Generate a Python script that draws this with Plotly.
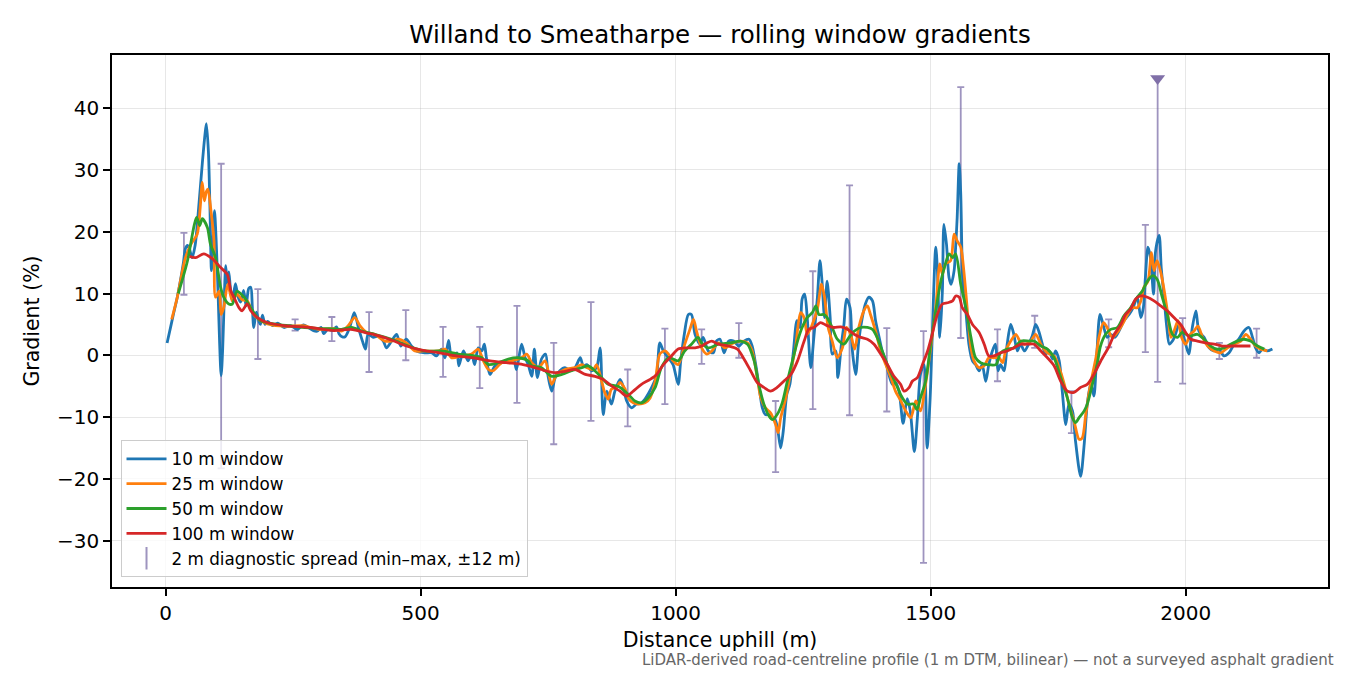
import plotly.graph_objects as go

# --- rolling window gradients (%), distance uphill (m) ---
d10 = [3, 10, 15, 23, 30, 35, 39, 43, 47, 52,
       58, 65, 72, 77, 80, 84, 87, 90, 93, 96,
       99, 103, 106, 109, 112, 115, 118, 121, 124, 127,
       131, 137, 142, 147, 153, 158, 163, 167, 170, 173,
       178, 183, 186, 190, 195, 200, 210, 220, 232, 245,
       258, 270, 280, 290, 297, 305, 310, 318, 327, 335,
       340, 346, 352, 361, 370, 378, 386, 392, 397, 407,
       417, 427, 433, 443, 453, 461, 472, 482, 492, 508,
       522, 531, 541, 548, 555, 561, 571, 575, 584, 593,
       600, 606, 613, 620, 625, 629, 636, 646, 659, 672,
       682, 688, 698, 705, 711, 718, 723, 729, 737, 745,
       750, 757, 764, 773, 783, 793, 803, 813, 819, 826,
       835, 845, 852, 858, 865, 874, 881, 891, 897, 904,
       914, 923, 933, 940, 946, 956, 963, 969, 976, 986,
       995, 1005, 1010, 1017, 1025, 1031, 1038, 1048, 1054, 1064,
       1074, 1080, 1087, 1095, 1104, 1114, 1124, 1134, 1144, 1150,
       1157, 1163, 1170, 1176, 1183, 1190, 1196, 1201, 1206, 1211,
       1218, 1224, 1231, 1238, 1244, 1248, 1253, 1258, 1265, 1271,
       1278, 1283, 1287, 1292, 1297, 1303, 1307, 1314, 1318, 1325,
       1330, 1335, 1342, 1346, 1353, 1359, 1366, 1372, 1379, 1386,
       1392, 1399, 1405, 1412, 1418, 1425, 1431, 1438, 1446, 1454,
       1460, 1468, 1474, 1480, 1487, 1493, 1499, 1503, 1510, 1513,
       1518, 1523, 1526, 1531, 1536, 1540, 1546, 1549, 1552, 1556,
       1559, 1563, 1569, 1575, 1582, 1588, 1595, 1601, 1608, 1614,
       1621, 1627, 1632, 1637, 1644, 1650, 1657, 1663, 1670, 1676,
       1684, 1693, 1699, 1706, 1712, 1719, 1725, 1732, 1739, 1745,
       1752, 1758, 1765, 1771, 1778, 1784, 1794, 1801, 1807, 1814,
       1820, 1825, 1832, 1838, 1846, 1853, 1861, 1869, 1879, 1889,
       1897, 1905, 1912, 1917, 1921, 1926, 1931, 1937, 1941, 1948,
       1952, 1957, 1963, 1968, 1974, 1980, 1987, 1993, 2000, 2006,
       2013, 2020, 2026, 2036, 2046, 2055, 2065, 2075, 2085, 2095,
       2104, 2114, 2124, 2131, 2137, 2144, 2150, 2160, 2170]
g10 = [2.0, 4.6, 6.5, 9.4, 12.5, 15.0, 17.3, 17.8, 17.2, 15.8,
       17.8, 24.0, 31.0, 35.5, 37.5, 33.0, 24.0, 13.7, 18.0, 23.4,
       19.0, 10.0, 2.0, -3.3, 1.0, 9.0, 14.5, 11.5, 13.5, 11.0,
       8.8, 11.6, 9.5, 8.6, 10.5, 8.0, 10.8, 11.0, 8.0, 4.5,
       7.0, 5.5, 5.0, 6.5, 5.0, 5.5, 4.8, 5.2, 4.5, 4.8,
       4.2, 4.9, 4.5, 4.0, 3.9, 4.5, 3.5, 4.2, 4.0, 4.6,
       3.5, 3.0, 3.0, 4.5, 6.9, 4.5, 2.3, 1.0, 3.4, 2.9,
       3.1, 2.3, 1.2, 2.3, 3.4, 1.5, 2.6, 1.5, 0.7, 0.4,
       0.4, -0.1, 1.0, -0.4, 2.4, -0.4, 0.4, -1.7, 0.7, -0.9,
       0.2, -1.5, 1.2, 0.7, 1.8, -0.4, -3.1, -1.7, -1.2, -0.9,
       -0.6, -2.3, 1.8, -0.4, -1.5, -3.4, 1.0, -3.6, -0.6, 0.2,
       -3.4, -5.8, -3.6, -2.5, -2.0, -2.5, -2.0, -0.4, -1.7, -1.5,
       -2.5, -2.0, 1.2, -9.6, -5.8, -7.9, -5.8, -3.9, -5.0, -7.4,
       -8.5, -7.9, -7.7, -7.1, -6.3, -4.7, -3.1, 2.0, 0.7, -0.4,
       -1.5, -4.7, -0.9, 3.4, 6.6, 6.6, 3.4, 1.8, 2.9, 0.7,
       0.4, 2.3, 2.6, 0.4, 2.3, 2.3, 1.5, 2.3, 2.6, 1.5,
       -1.5, -4.7, -8.5, -9.6, -9.6, -10.1, -10.6, -12.5, -15.0, -12.3,
       -6.3, -4.7, 0.7, 5.6, 4.5, 9.1, 9.9, 6.1, -2.0, 2.9,
       9.4, 15.3, 12.0, 6.1, 12.0, 6.1, 0.2, 0.7, -3.6, 1.8,
       5.0, 9.1, 7.7, 1.2, -3.1, 2.3, 6.1, 8.3, 9.4, 8.8,
       5.6, 2.9, 0.7, -0.9, -3.1, -4.7, -4.4, -5.8, -11.0, -7.0,
       -9.0, -15.6, -10.1, -3.1, -1.5, -15.0, -6.9, 2.9, 17.5, 14.2,
       2.9, 10.4, 21.2, 18.0, 12.6, 11.5, 13.7, 17.5, 22.3, 31.0,
       26.1, 12.0, 7.2, 1.8, -0.9, -1.5, -2.5, -1.5, -4.2, -1.5,
       0.7, 1.8, -2.5, -1.5, -2.5, 1.8, 5.0, 3.4, 0.7, 1.8,
       0.7, 2.0, 3.1, 5.0, 3.9, 1.8, 0.2, 0.7, -0.6, 0.7,
       -0.9, -5.8, -11.2, -7.9, -9.0, -13.9, -19.6, -14.4, -7.9, -4.5,
       -6.6, -0.9, 6.6, 5.0, 2.9, 3.4, 2.9, 3.9, 5.6, 6.6,
       7.7, 9.4, 6.1, 7.7, 12.6, 17.5, 15.8, 9.9, 16.9, 19.4,
       14.2, 9.9, 4.5, 1.8, 2.3, 3.4, 5.0, 3.9, 1.8, 0.2,
       4.5, 7.2, 3.9, 2.9, 1.2, 0.7, 1.0, -0.1, 0.4, 1.8,
       2.6, 3.9, 4.5, 2.9, 1.2, 0.4, 1.0, 0.7, 1.0]

d25 = [12, 23, 39, 50, 62, 68, 72, 76, 80, 83,
       89, 95, 98, 105, 109, 114, 122, 131, 140, 150,
       160, 173, 193, 210, 240, 270, 300, 330, 345, 358,
       371, 381, 394, 410, 430, 443, 456, 472, 489, 508,
       535, 548, 561, 580, 600, 613, 623, 633, 642, 659,
       678, 698, 708, 718, 731, 744, 757, 767, 783, 803,
       816, 826, 839, 845, 855, 861, 868, 874, 884, 891,
       901, 907, 917, 927, 940, 950, 960, 969, 979, 986,
       995, 1005, 1018, 1028, 1035, 1041, 1051, 1061, 1071, 1084,
       1097, 1108, 1127, 1141, 1150, 1160, 1167, 1176, 1186, 1196,
       1201, 1206, 1216, 1226, 1235, 1245, 1252, 1258, 1268, 1278,
       1286, 1292, 1299, 1307, 1317, 1327, 1335, 1343, 1351, 1359,
       1369, 1376, 1382, 1392, 1402, 1412, 1422, 1431, 1441, 1451,
       1461, 1471, 1480, 1490, 1500, 1510, 1518, 1523, 1529, 1539,
       1546, 1552, 1559, 1565, 1572, 1579, 1585, 1595, 1605, 1614,
       1624, 1634, 1641, 1647, 1657, 1667, 1677, 1686, 1696, 1706,
       1716, 1729, 1742, 1752, 1762, 1771, 1781, 1791, 1797, 1804,
       1811, 1815, 1824, 1830, 1839, 1846, 1856, 1866, 1876, 1886,
       1895, 1905, 1912, 1918, 1926, 1933, 1938, 1944, 1952, 1959,
       1965, 1971, 1977, 1985, 1992, 2000, 2009, 2016, 2024, 2033,
       2043, 2056, 2069, 2082, 2095, 2108, 2118, 2127, 2137, 2147, 2160]
g25 = [5.8, 9.4, 15.8, 18.0, 19.6, 24.0, 28.0, 25.0, 26.5, 26.9,
       23.4, 18.5, 9.4, 10.4, 6.6, 7.7, 11.5, 8.8, 9.9, 9.0,
       8.8, 6.6, 5.3, 4.9, 4.7, 4.8, 4.2, 4.3, 3.9, 4.8,
       6.1, 4.8, 3.7, 3.4, 2.3, 2.3, 2.6, 2.0, 0.7, 0.7,
       0.7, 1.0, -0.4, -0.1, 0.2, 1.0, -0.9, -2.3, -2.5, -1.2,
       -0.9, -0.4, 0.2, -1.2, -2.0, -0.9, -4.7, -3.1, -2.3, -2.0,
       -1.5, -2.0, -2.3, -1.5, -4.2, -6.0, -7.1, -5.5, -5.2, -4.4,
       -5.5, -6.9, -7.7, -7.9, -7.7, -6.9, -4.2, 0.2, 0.7, 0.2,
       -0.9, -1.5, 1.8, 4.2, 5.8, 3.9, 1.2, 0.2, 0.7, 2.0,
       1.2, 1.8, 2.3, 2.0, 0.7, -3.6, -6.9, -8.5, -9.3, -11.2,
       -12.5, -10.1, -6.9, -2.5, 1.2, 6.9, 6.1, 3.4, 5.0, 7.5,
       11.5, 9.4, 4.5, 2.3, -0.4, 1.2, 4.5, 3.4, 1.0, 4.5,
       7.2, 8.0, 6.6, 3.9, 0.7, -1.5, -3.6, -5.8, -7.3, -9.0,
       -10.1, -7.4, -9.0, -4.7, 1.2, 7.7, 14.8, 13.1, 14.8, 15.3,
       19.6, 18.5, 17.5, 13.7, 7.2, 1.2, -0.9, -2.0, -1.7, -0.4,
       -0.4, -0.4, -1.2, 0.7, 2.3, 3.4, 2.0, 1.8, 2.3, 3.4,
       1.8, 0.4, -0.1, -2.0, -4.7, -7.9, -10.6, -13.6, -13.4, -9.6,
       -5.8, -4.0, -0.4, 2.9, 5.3, 4.5, 2.9, 3.7, 5.0, 6.6,
       7.7, 7.7, 8.8, 11.0, 12.0, 16.6, 13.7, 15.3, 13.1, 9.9,
       6.6, 2.9, 3.9, 5.6, 2.9, 1.8, 3.4, 3.9, 4.7, 2.9,
       1.5, 0.7, 0.4, 1.2, 1.8, 2.3, 3.4, 2.6, 1.5, 1.0, 0.7]

d50 = [25, 43, 56, 61, 67, 72, 82, 88, 98, 108,
       114, 124, 131, 140, 154, 167, 186, 219, 250, 290,
       320, 345, 365, 385, 410, 443, 476, 508, 541, 574,
       606, 620, 633, 652, 672, 691, 711, 718, 737, 757,
       777, 796, 816, 829, 839, 855, 868, 887, 907, 920,
       933, 946, 960, 972, 986, 995, 1005, 1018, 1031, 1044,
       1051, 1064, 1084, 1108, 1127, 1141, 1154, 1163, 1173, 1183,
       1190, 1199, 1209, 1219, 1229, 1239, 1248, 1258, 1268, 1275,
       1281, 1291, 1297, 1307, 1317, 1330, 1340, 1350, 1363, 1376,
       1386, 1395, 1405, 1415, 1425, 1435, 1444, 1454, 1467, 1473,
       1480, 1490, 1500, 1510, 1520, 1529, 1536, 1543, 1549, 1559,
       1569, 1579, 1588, 1598, 1611, 1628, 1637, 1650, 1663, 1677,
       1693, 1703, 1716, 1729, 1742, 1755, 1768, 1778, 1784, 1791,
       1801, 1807, 1817, 1827, 1833, 1843, 1853, 1866, 1879, 1892,
       1905, 1915, 1925, 1935, 1944, 1954, 1964, 1974, 1984, 1993,
       2007, 2023, 2036, 2049, 2062, 2075, 2088, 2101, 2114, 2127, 2141, 2154]
g50 = [10.0, 15.3, 21.0, 22.3, 21.0, 22.1, 20.7, 18.0, 15.8, 11.0,
       9.4, 8.3, 8.3, 10.4, 9.4, 7.7, 5.6, 5.0, 4.7, 4.4,
       4.3, 4.2, 4.5, 3.9, 3.4, 2.6, 1.5, 0.7, 0.7, 0.2,
       -0.1, -0.4, -1.5, -1.2, -0.6, -0.4, -0.9, -1.7, -2.0, -3.4,
       -3.1, -2.5, -2.0, -1.7, -2.3, -3.6, -4.7, -5.0, -6.3, -7.4,
       -7.7, -6.9, -5.2, -2.0, -0.4, -0.6, -0.9, 0.7, 1.8, 2.9,
       2.0, 1.2, 1.8, 2.0, 2.3, 1.8, -0.9, -4.7, -7.9, -9.8,
       -10.4, -9.6, -7.7, -4.2, -0.9, 2.3, 4.5, 6.1, 6.9, 8.0,
       6.6, 6.6, 6.1, 4.5, 2.6, 1.8, 2.9, 3.9, 4.5, 4.5,
       4.2, 2.9, 0.7, -1.5, -3.4, -5.2, -6.8, -7.9, -7.9, -8.8,
       -6.9, -4.2, 1.8, 7.2, 12.0, 14.8, 16.4, 15.8, 16.4, 11.5,
       7.7, 2.9, -0.4, -1.2, -1.5, -1.5, 0.4, 1.0, 1.2, 2.3,
       2.3, 2.3, 1.5, 1.0, -0.4, -3.6, -6.9, -10.1, -10.9, -10.1,
       -9.0, -7.9, -4.7, -1.2, 1.5, 3.4, 4.2, 4.5, 6.4, 7.7,
       9.4, 10.4, 12.0, 12.9, 12.3, 9.4, 6.6, 3.4, 2.9, 3.7,
       3.1, 3.4, 2.6, 1.5, 1.0, 1.2, 1.8, 2.3, 2.6, 2.3, 1.5, 1.0]

d100 = [47, 59, 75, 92, 108, 121, 128, 134, 144, 150,
        160, 167, 180, 199, 232, 284, 330, 363, 395, 420,
        445, 472, 505, 537, 570, 603, 636, 668, 701, 737,
        744, 764, 783, 803, 823, 842, 858, 875, 891, 904,
        917, 933, 950, 963, 976, 992, 1005, 1022, 1038, 1051,
        1061, 1071, 1084, 1103, 1121, 1134, 1147, 1160, 1173, 1186,
        1199, 1212, 1226, 1239, 1252, 1261, 1271, 1284, 1297, 1310,
        1324, 1337, 1350, 1363, 1376, 1389, 1402, 1415, 1428, 1441,
        1448, 1458, 1464, 1474, 1484, 1494, 1503, 1513, 1523, 1533,
        1543, 1549, 1556, 1562, 1572, 1582, 1595, 1605, 1614, 1624,
        1637, 1650, 1663, 1677, 1690, 1703, 1716, 1729, 1742, 1755,
        1768, 1781, 1794, 1807, 1820, 1833, 1850, 1860, 1873, 1882,
        1892, 1902, 1912, 1925, 1938, 1951, 1964, 1977, 1990, 2000,
        2010, 2023, 2039, 2056, 2072, 2088, 2105, 2127]
g100 = [16.0, 15.8, 16.4, 15.6, 14.2, 13.1, 10.4, 9.4, 7.7, 7.2,
        8.3, 7.2, 6.1, 5.3, 4.8, 4.5, 4.0, 4.2, 3.6, 3.1,
        2.4, 1.5, 0.8, 0.4, -0.1, -0.4, -0.9, -1.2, -1.5, -2.3,
        -2.5, -2.8, -2.6, -2.3, -3.1, -3.4, -3.9, -5.0, -5.8, -6.6,
        -5.8, -4.7, -3.9, -3.1, -1.5, -0.1, 1.0, 1.2, 1.2, 1.5,
        2.0, 2.3, 1.8, 1.5, 1.0, -0.6, -2.5, -4.4, -5.2, -5.8,
        -5.2, -4.2, -3.1, -0.9, 2.3, 4.2, 4.5, 5.3, 4.8, 4.5,
        4.6, 4.2, 3.4, 2.9, 2.6, 1.8, 0.2, -1.5, -3.4, -4.7,
        -5.8, -5.2, -4.2, -3.6, -1.5, 0.7, 3.4, 6.6, 8.3, 8.5,
        8.8, 9.6, 9.4, 7.7, 6.6, 5.0, 3.7, 1.8, -0.1, -0.1,
        0.4, 0.7, 1.2, 1.8, 1.8, 1.8, 0.7, -0.4, -1.7, -4.2,
        -5.8, -6.0, -5.2, -4.7, -3.1, -1.0, 1.5, 3.4, 5.0, 6.6,
        7.5, 9.1, 9.6, 9.4, 8.8, 8.0, 7.2, 6.1, 5.0, 3.7,
        2.6, 2.3, 2.0, 1.8, 1.5, 1.5, 1.5, 1.5]

# 2 m diagnostic spread: min/max of 2 m gradient within +-12 m
bar_d = [36, 109, 181, 254, 326, 399, 471, 544, 616, 689,
         761, 834, 906, 979, 1051, 1124, 1196, 1269, 1341, 1414,
         1486, 1559, 1631, 1704, 1776, 1849, 1921, 1994, 2066, 2139]
bar_lo = [9.8, -18.3, -0.6, 4.0, 2.3, -2.7, -0.8, -3.5, -5.3, -7.7,
          -14.4, -10.6, -11.5, -7.9, -1.4, -0.4, -18.9, -8.7, -9.7, -9.1,
          -33.6, 2.8, -4.2, 1.2, -12.6, 1.3, 0.5, -4.6, -0.6, -0.4]
bar_hi = [19.8, 31.0, 10.7, 5.8, 6.2, 7.0, 7.3, 4.6, 4.6, 8.0,
          2.0, 8.6, -2.3, 4.3, 4.2, 5.2, -7.4, 13.6, 27.5, 4.4,
          3.9, 43.4, 4.2, 6.4, -5.8, 5.8, 21.1, 6.0, 2.0, 4.3]
# spread whose max runs off the top of the axis
clip_d = [1945]
clip_lo = [-4.3]
clip_hi = [44.8]

BAR_COL = 'rgba(112,98,160,0.68)'
FONT = 'DejaVu Sans'

fig = go.Figure()

all_d = bar_d + clip_d
all_lo = bar_lo + clip_lo
all_hi = bar_hi + clip_hi
mid = [(lo + hi) / 2 for lo, hi in zip(all_lo, all_hi)]
fig.add_trace(go.Scatter(
    x=all_d, y=mid, mode='markers', showlegend=False, hoverinfo='skip',
    marker=dict(color='rgba(0,0,0,0)', size=1),
    error_y=dict(type='data', symmetric=False,
                 array=[h - m for h, m in zip(all_hi, mid)],
                 arrayminus=[m - l for m, l in zip(mid, all_lo)],
                 color=BAR_COL, thickness=1.8, width=3.5)))
fig.add_trace(go.Scatter(
    x=clip_d, y=clip_hi, mode='markers', showlegend=False,
    marker=dict(symbol='triangle-down', size=13, color='#8070a8')))

series = [(d10, g10, '#1f77b4', '10 m window'),
          (d25, g25, '#ff7f0e', '25 m window'),
          (d50, g50, '#2ca02c', '50 m window'),
          (d100, g100, '#d62728', '100 m window')]
for xs, ys, col, name in series:
    fig.add_trace(go.Scatter(x=xs, y=ys, mode='lines', name=name,
                             line=dict(color=col, width=2.8, shape='spline', smoothing=0.8)))

# legend entry for the spread bars
fig.add_trace(go.Scatter(
    x=[None], y=[None], mode='markers', name='2 m diagnostic spread (min–max, ±12 m)',
    marker=dict(symbol='line-ns-open', size=16, color=BAR_COL, line=dict(width=2, color=BAR_COL))))

axis_common = dict(showgrid=True, gridcolor='rgba(176,176,176,0.3)', gridwidth=1.2,
                   zeroline=False, showline=True, linecolor='black', linewidth=1.6,
                   mirror=True, ticks='outside', ticklen=7, tickwidth=1.6, tickcolor='black',
                   tickfont=dict(size=20, color='black'), automargin=False)

# page body adds ~8 px offset, margins compensate
fig.update_layout(
    width=1350, height=675,
    margin=dict(l=104, r=30, t=47, b=96),
    paper_bgcolor='white', plot_bgcolor='white',
    font=dict(family=FONT, color='black'),
    title=dict(text='Willand to Smeatharpe — rolling window gradients',
               x=0.5, xref='paper', xanchor='center', y=0.961, yref='container',
               yanchor='middle', font=dict(size=24.5, color='black')),
    xaxis=dict(range=[-105, 2279], dtick=500, tick0=0,
               title=dict(text='Distance uphill (m)', font=dict(size=20.5), standoff=9),
               **axis_common),
    yaxis=dict(range=[-37.5, 48.6], dtick=10, tick0=0,
               title=dict(text='Gradient (%)', font=dict(size=20.5), standoff=12),
               **axis_common),
    legend=dict(x=0.007, y=0.018, xanchor='left', yanchor='bottom',
                bgcolor='rgba(255,255,255,0.8)', bordercolor='#cccccc', borderwidth=1,
                itemwidth=40, font=dict(size=16.8, color='black')),
    showlegend=True,
)

fig.add_annotation(text='LiDAR-derived road-centreline profile (1 m DTM, bilinear) — not a surveyed asphalt gradient',
                   xref='paper', yref='paper', x=1.0066, y=-0.137, xanchor='right', yanchor='middle',
                   showarrow=False, font=dict(size=15, color='#666666'))

fig.write_html('out.html')
